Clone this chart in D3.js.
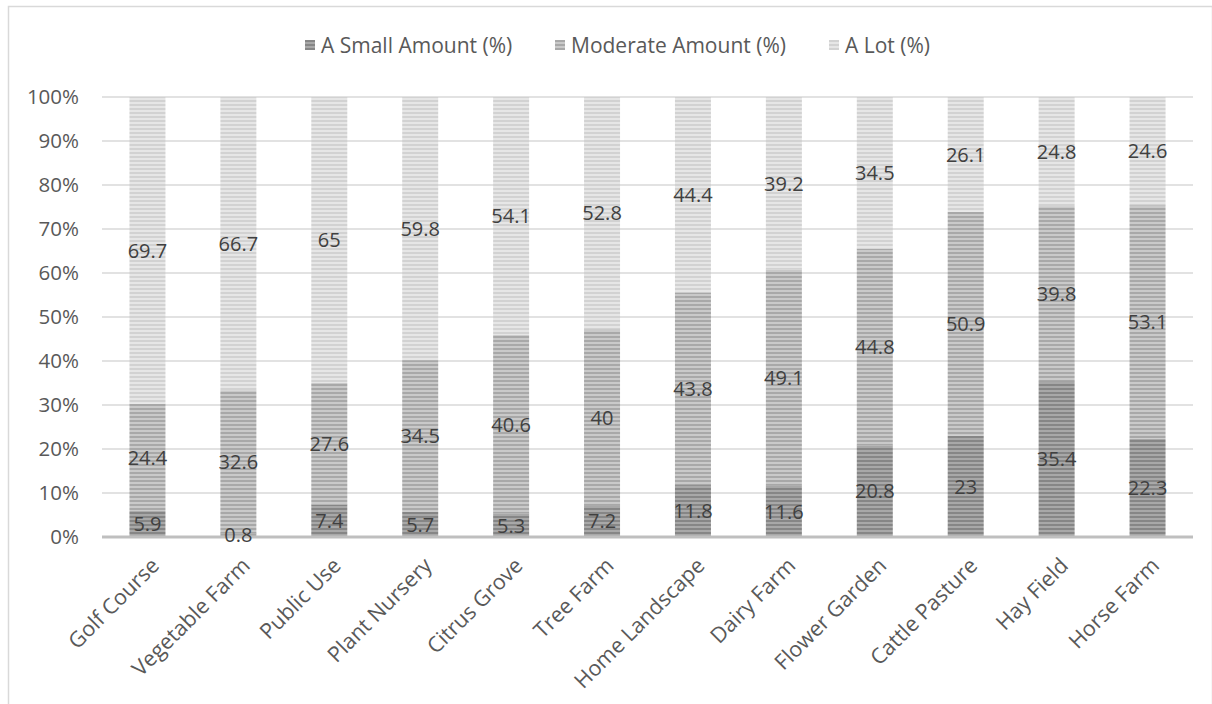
<!DOCTYPE html>
<html><head><meta charset="utf-8">
<script src="https://cdn.jsdelivr.net/npm/d3@7"></script>
<style>
html,body{margin:0;padding:0;background:#fff;}
svg{display:block;font-family:"Open Sans","Noto Sans",sans-serif;}
</style></head>
<body>
<svg id="chart" width="1212" height="704"></svg>
<script>
const categories = ["Golf Course","Vegetable Farm","Public Use","Plant Nursery","Citrus Grove","Tree Farm","Home Landscape","Dairy Farm","Flower Garden","Cattle Pasture","Hay Field","Horse Farm"];
const seriesNames = ["A Small Amount (%)","Moderate Amount (%)","A Lot (%)"];
const smallAmount = [5.9,0.8,7.4,5.7,5.3,7.2,11.8,11.6,20.8,23,35.4,22.3];
const moderateAmount = [24.4,32.6,27.6,34.5,40.6,40,43.8,49.1,44.8,50.9,39.8,53.1];
const aLot = [69.7,66.7,65,59.8,54.1,52.8,44.4,39.2,34.5,26.1,24.8,24.6];
const yTicks = [0,0.1,0.2,0.3,0.4,0.5,0.6,0.7,0.8,0.9,1];

const svg = d3.select("#chart");
const W = 1212, H = 704;
const m = {left:102, right:19};
const FONT = "'Open Sans','Noto Sans',sans-serif";

// chart border
svg.append("rect").attr("x",8.5).attr("y",6.5).attr("width",W-8).attr("height",H)
  .attr("fill","none").attr("stroke","#d9d9d9").attr("stroke-width",1.5);

const pats = [
  {id:"p0", fg:"#868686", bg:"#a8a8a8"},
  {id:"p1", fg:"#a8a8a8", bg:"#c9c9c9"},
  {id:"p2", fg:"#d2d2d2", bg:"#e6e6e6"}
];
const defs = svg.append("defs");
pats.forEach(p=>{
  const pt = defs.append("pattern").attr("id",p.id).attr("patternUnits","userSpaceOnUse")
    .attr("width",4).attr("height",4);
  pt.append("rect").attr("width",4).attr("height",4).attr("fill",p.bg);
  pt.append("rect").attr("width",4).attr("height",2).attr("fill",p.fg);
});

const x = d3.scaleBand().domain(categories).range([m.left, W-m.right]).paddingInner(0.6).paddingOuter(0.3);
const y = d3.scaleLinear().domain([0,1]).range([537, 97]);

// gridlines
svg.append("g").selectAll("line").data(yTicks.slice(1)).join("line")
  .attr("x1",m.left).attr("x2",W-m.right)
  .attr("y1",d=>y(d)).attr("y2",d=>y(d))
  .attr("stroke","#d9d9d9").attr("stroke-width",1.5);

// stacked data (normalized)
const rows = categories.map((c,i)=>{
  const tot = smallAmount[i]+moderateAmount[i]+aLot[i];
  return {cat:c, s0:smallAmount[i]/tot, s1:moderateAmount[i]/tot, s2:aLot[i]/tot,
          v0:smallAmount[i], v1:moderateAmount[i], v2:aLot[i]};
});
const stack = d3.stack().keys(["s0","s1","s2"]);
const layers = stack(rows);

const bw = 36;
layers.forEach((layer,li)=>{
  svg.append("g").selectAll("rect").data(layer).join("rect")
    .attr("x",d=>x(d.data.cat)+x.bandwidth()/2-bw/2)
    .attr("width",bw)
    .attr("y",d=>y(d[1]))
    .attr("height",d=>y(d[0])-y(d[1]))
    .attr("fill",`url(#p${li})`);
});

// axis line
svg.append("line").attr("x1",m.left).attr("x2",W-m.right).attr("y1",y(0)).attr("y2",y(0))
  .attr("stroke","#bfbfbf").attr("stroke-width",3);

// data labels
layers.forEach((layer,li)=>{
  svg.append("g").selectAll("text").data(layer).join("text")
    .attr("x",d=>x(d.data.cat)+x.bandwidth()/2)
    .attr("y",d=>y((d[0]+d[1])/2))
    .attr("dy","0.36em")
    .attr("text-anchor","middle")
    .attr("font-size",20)
    .attr("fill","#404040")
    .text(d=>d.data["v"+li]);
});

// y axis labels
const yAxis = d3.axisLeft(y).tickValues(yTicks).tickFormat(d3.format(".0%")).tickSize(0).tickPadding(23);
const ya = svg.append("g").attr("transform",`translate(${m.left},0)`).call(yAxis);
ya.select(".domain").remove();
ya.selectAll("text").attr("font-size",20.5).attr("fill","#595959").attr("font-family",FONT);

// x axis labels
const xAxis = d3.axisBottom(x).tickSize(0).tickPadding(0);
const xa = svg.append("g").attr("transform",`translate(0,${y(0)})`).call(xAxis);
xa.select(".domain").remove();
xa.selectAll("text")
  .attr("font-size",21.5).attr("fill","#595959").attr("font-family",FONT)
  .attr("text-anchor","end")
  .attr("dy","0")
  .attr("y",0)
  .attr("transform","translate(13,30) rotate(-45)");

// legend
const legX = [305, 555, 829];
const lg = svg.append("g");
seriesNames.forEach((n,i)=>{
  lg.append("rect").attr("x",legX[i]).attr("y",40).attr("width",10).attr("height",10).attr("fill",`url(#p${i})`);
  lg.append("text").attr("x",legX[i]+16).attr("y",45).attr("dy","0.36em")
    .attr("font-size",21).attr("fill","#595959").text(n);
});
</script>
</body></html>
